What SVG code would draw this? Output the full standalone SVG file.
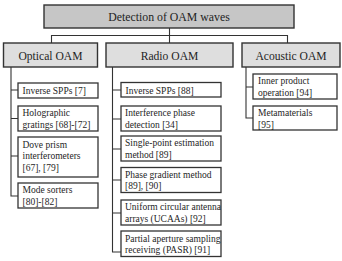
<svg xmlns="http://www.w3.org/2000/svg" width="342" height="261" viewBox="0 0 342 261" font-family="'Liberation Serif','Times New Roman',serif">
<style>
text{font-family:"Liberation Serif","Times New Roman",serif;fill:#1e1e1e}
.t{font-size:11.8px;text-anchor:middle}
.c{font-size:11.6px;text-anchor:middle}
.s{font-size:9.5px}
.top{fill:#c6c6c6;stroke:#333;stroke-width:1.4}
.cat{fill:#dedede;stroke:#333;stroke-width:1.4}
.leaf{fill:#fff;stroke:#333;stroke-width:1.3}
.ln{fill:none;stroke:#333;stroke-width:1.1}
</style>
<rect width="342" height="261" fill="#fff"/>
<g id="connectors">
<path class="ln" d="M169.5 28V35.5M51.5 43V35.5H287.5V43M169.5 35.5V43"/>
<path class="ln" d="M11 67V196H18M11 90H18M11 118.5H18M11 156H18"/>
<path class="ln" d="M112.5 67V252H121M112.5 90H121M112.5 119H121M112.5 149H121M112.5 180H121M112.5 213H121"/>
<path class="ln" d="M246 67V118H253M246 87H253"/>
</g>
<g id="root"><rect class="top" x="44" y="5" width="250" height="23"/><text class="t" x="169" y="21">Detection of OAM waves</text></g>
<g id="optical"><rect class="cat" x="3.5" y="43" width="94" height="24"/><text class="c" x="50.5" y="59.5">Optical OAM</text></g>
<g id="radio"><rect class="cat" x="106" y="43" width="127" height="24"/><text class="c" x="169.5" y="59.5">Radio OAM</text></g>
<g id="acoustic"><rect class="cat" x="242" y="43" width="98" height="24"/><text class="c" x="291" y="59.5">Acoustic OAM</text></g>

<g id="o1"><rect class="leaf" x="18" y="83" width="80" height="15"/><text class="s" x="22.5" y="94">Inverse SPPs [7]</text></g>
<g id="o2"><rect class="leaf" x="18" y="106" width="80" height="25"/><text class="s" x="22.5" y="116">Holographic</text><text class="s" x="22.5" y="127.5">gratings [68]-[72]</text></g>
<g id="o3"><rect class="leaf" x="18" y="137" width="80" height="40"/><text class="s" x="22.5" y="147.5">Dove prism</text><text class="s" x="22.5" y="159">interferometers</text><text class="s" x="22.5" y="170.5">[67], [79]</text></g>
<g id="o4"><rect class="leaf" x="18" y="183" width="80" height="25"/><text class="s" x="22.5" y="193">Mode sorters</text><text class="s" x="22.5" y="204.5">[80]-[82]</text></g>

<g id="r1"><rect class="leaf" x="121" y="82.5" width="100" height="14.5"/><text class="s" x="125.5" y="93.5">Inverse SPPs [88]</text></g>
<g id="r2"><rect class="leaf" x="121" y="106" width="100" height="25"/><text class="s" x="125" y="116">Interference phase</text><text class="s" x="125" y="127.5">detection [34]</text></g>
<g id="r3"><rect class="leaf" x="121" y="136" width="100" height="25"/><text class="s" x="125" y="146">Single-point estimation</text><text class="s" x="125" y="157.5">method [89]</text></g>
<g id="r4"><rect class="leaf" x="121" y="167.5" width="100" height="25"/><text class="s" x="125" y="177.5">Phase gradient method</text><text class="s" x="125" y="189">[89], [90]</text></g>
<g id="r5"><rect class="leaf" x="121" y="200" width="100" height="25"/><text class="s" x="125" y="210">Uniform circular antenna</text><text class="s" x="125" y="221.5">arrays (UCAAs) [92]</text></g>
<g id="r6"><rect class="leaf" x="121" y="231" width="100" height="25.5"/><text class="s" x="125" y="241.5">Partial aperture sampling</text><text class="s" x="125" y="253">receiving (PASR) [91]</text></g>

<g id="a1"><rect class="leaf" x="253" y="74" width="84" height="25"/><text class="s" x="258" y="84">Inner product</text><text class="s" x="258" y="95.5">operation [94]</text></g>
<g id="a2"><rect class="leaf" x="253" y="106" width="84" height="24"/><text class="s" x="258" y="116">Metamaterials</text><text class="s" x="258" y="127.5">[95]</text></g>
</svg>
